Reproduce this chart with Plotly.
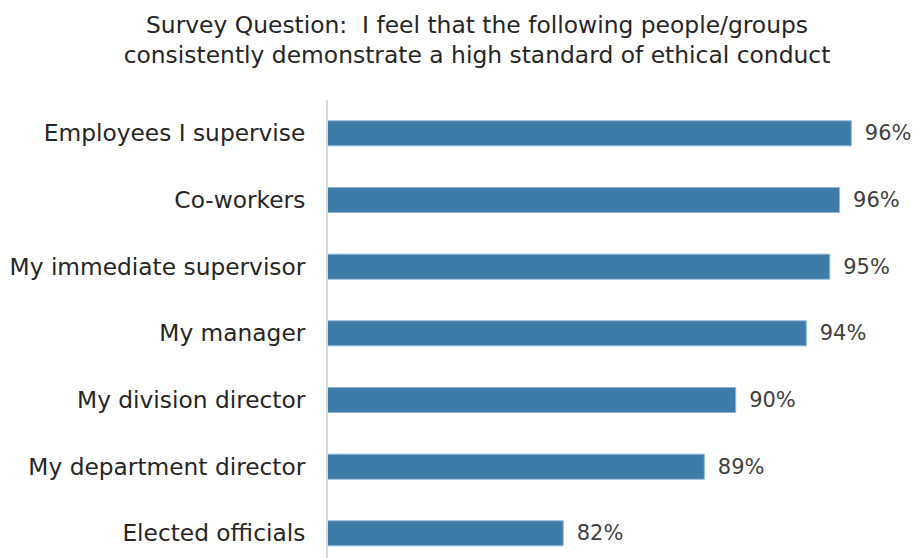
import plotly.graph_objects as go

categories = ["Employees I supervise", "Co-workers", "My immediate supervisor",
              "My manager", "My division director", "My department director",
              "Elected officials"]
values = [96.7, 96.1, 95.6, 94.4, 90.8, 89.2, 82.0]
labels = ["96%", "96%", "95%", "94%", "90%", "89%", "82%"]

cats_r = categories[::-1]
vals_r = values[::-1]
labs_r = ["\u2002" + l for l in labels[::-1]]

fig = go.Figure(go.Bar(
    y=cats_r, x=vals_r, orientation="h",
    marker=dict(color="#3d7ba9", line=dict(color="#8fb6d3", width=1)),
    width=0.375,
    text=labs_r, textposition="outside", cliponaxis=False,
    textfont=dict(family="DejaVu Sans", size=23.5, color="#404040"),
    hoverinfo="skip",
))

fig.update_layout(
    width=922, height=558,
    margin=dict(l=328, r=6, t=100, b=0),
    plot_bgcolor="white", paper_bgcolor="white",
    showlegend=False,
    title=dict(
        text="Survey Question:  I feel that the following people/groups<br>consistently demonstrate a high standard of ethical conduct",
        x=477/922, xanchor="center", xref="container",
        y=1 - 33/558, yanchor="middle",
        font=dict(family="DejaVu Sans", size=23.4, color="#262626"),
    ),
    xaxis=dict(range=[70, 100], visible=False, fixedrange=True),
    yaxis=dict(
        range=[-0.37, 6.5], showgrid=False, zeroline=False,
        showline=True, linecolor="#d9d9d9", linewidth=2,
        ticks="", ticklabelstandoff=16,
        tickfont=dict(family="DejaVu Sans", size=23.3, color="#262626"),
    ),
)

fig.write_html("out.html")
